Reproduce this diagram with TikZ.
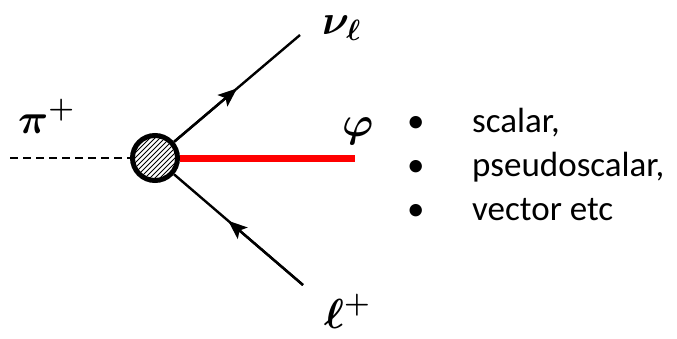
\RequirePackage{fix-cm}
\documentclass[tikz,border=0pt]{standalone}
\usepackage{amsmath}
\usepackage{fontspec}
\newfontfamily\calibri{Carlito}
\usetikzlibrary{arrows.meta}

\tikzset{
  fermion/.style={line width=2.4pt},
  tip/.style={-{Stealth[length=19pt,width=15pt,inset=4pt]}},
  scalarline/.style={line width=2pt,dash pattern=on 8pt off 5pt},
  blob/.style={circle,draw,line width=5pt,minimum size=45pt,inner sep=0pt,outer sep=2.5pt,fill=white,
    path picture={\foreach \i in {-45,-40,...,45}{
        \draw[line width=0.75pt] ([xshift=\i pt]path picture bounding box.center) ++(-35pt,-35pt) -- ++(70pt,70pt);}}},
  lbl/.style={inner sep=0pt,anchor=base west,font=\fontsize{42}{50}\selectfont\boldmath},
  item/.style={inner sep=0pt,anchor=base west,font=\calibri\fontsize{35}{42}\selectfont}
}

\begin{document}
\begin{tikzpicture}[x=1pt,y=-1pt]
	\useasboundingbox (0,0) rectangle (677,338);
	% vertex and free ends
	\node[blob] (blob) at (155,158) {};
	\coordinate (pi) at (10,158);
	\coordinate (nu) at (300,35);
	\coordinate (lep) at (303,285);
	\coordinate (phi) at (355,158);
	% lines
	\draw[scalarline] (pi) -- (blob);
	\path (blob) -- (nu) coordinate[pos=0.5] (nuarr);
	\path (lep) -- (blob) coordinate[pos=0.58] (leparr);
	\draw[fermion] (blob) -- (nu);
	\draw[fermion] (lep) -- (blob);
	\draw[fermion,tip] (blob) -- (nuarr);
	\draw[fermion,tip] (lep) -- (leparr);
	\draw[red,line width=7pt] (blob) -- (phi);
	% labels
	\node[lbl] (pilab) at (18,133) {$\pi^+$};
	\node[lbl] (nulab) at (322,34) {$\nu_\ell$};
	\node[lbl] (philab) at (342,136) {$\varphi$};
	\node[lbl] (leplab) at (324,328) {$\ell^+$};
	% list
	\foreach \y/\t [count=\n] in {132/{scalar,},176/{pseudoscalar,},220/{vector etc}}{
		\node[item] (b\n) at (407,\y) {•};
		\node[item] (t\n) at (472,\y) {\t};
	}
\end{tikzpicture}
\end{document}
